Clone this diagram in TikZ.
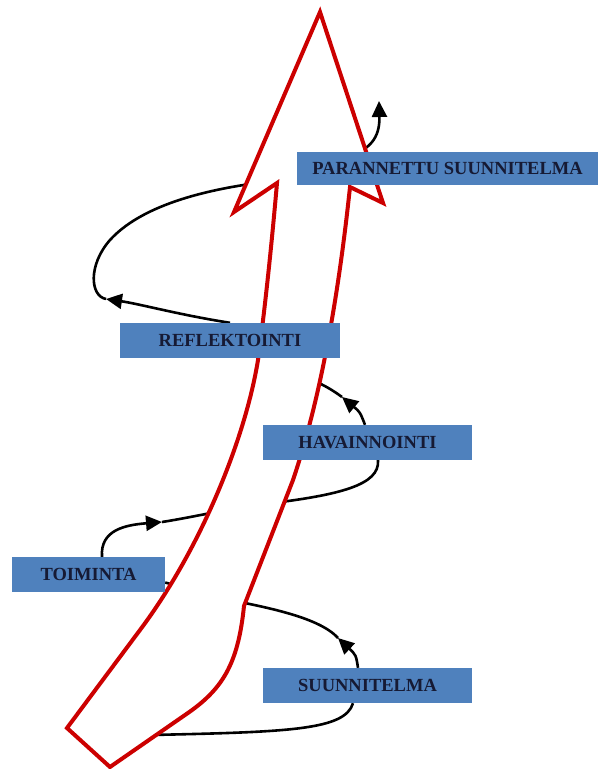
\documentclass[tikz,border=0pt]{standalone}
\usepackage{fontspec}
\setmainfont{Liberation Serif}
\usepackage{xcolor}
\usetikzlibrary{arrows.meta,backgrounds}

\definecolor{boxblue}{RGB}{79,129,189}
\definecolor{arrowred}{RGB}{204,0,0}
\definecolor{boxtext}{RGB}{22,26,52}

\begin{document}
\begin{tikzpicture}[
  x=1pt, y=-1pt, >={Triangle[length=16pt,width=15pt]},
  box/.style={fill=boxblue, text=boxtext, font=\fontsize{18.5}{20}\selectfont\bfseries, inner sep=0pt, minimum height=35pt},
  spiral/.style={draw=black, line width=2.6pt},
  bigarrow/.style={draw=arrowred, fill=white, line width=4pt, line join=miter},
]
\useasboundingbox (0,0) rectangle (612,769);

\node[box, minimum width=301pt, minimum height=33pt] (par) at (447.5,168.5) {PARANNETTU SUUNNITELMA};
\node[box, minimum width=220pt] (refl) at (230,340.5) {REFLEKTOINTI};
\node[box, minimum width=209pt] (hav) at (367.5,442.5) {HAVAINNOINTI};
\node[box, minimum width=153pt] (toim) at (88.5,574.5) {TOIMINTA};
\node[box, minimum width=209pt] (suun) at (367.5,685.5) {SUUNNITELMA};

\coordinate (s2) at (338,638);
\coordinate (t2) at (162,522);
\coordinate (h2) at (342,397);
\coordinate (r2) at (106,299);

\begin{scope}[on background layer]
% spiral round the arrow, hidden where it passes behind
\draw[spiral] ([xshift=-14.5pt]suun.south) .. controls (345,730) and (290,732) .. (150,735);
\draw[spiral,->] ([xshift=-9.5pt]suun.north) .. controls (356,655) .. (s2);
\draw[spiral] (s2) .. controls (320,618) and (270,608) .. (230,600) -- ([yshift=-8pt]toim.east);
\draw[spiral,->] ([xshift=13.5pt]toim.north) .. controls (100,530) and (125,525) .. (t2);
\draw[spiral] (t2) .. controls (200,516) and (240,506) .. (265,504)
  .. controls (340,495) and (380,485) .. ([xshift=10.5pt]hav.south);
\draw[spiral,->] ([xshift=-2.5pt]hav.north) .. controls (360,412) .. (h2);
\draw[spiral] (h2) .. controls (330,388) and (315,380) .. (300,376);
\draw[spiral,->] (refl.north) .. controls (180,315) and (140,304) .. (r2);
\draw[spiral] (r2) .. controls (90,296) and (88,265) .. (110,240)
  .. controls (140,207) and (200,190) .. (265,182);
\draw[spiral,->] (345,158) .. controls (370,150) and (380,138) .. (379,101);

% the big arrow
\draw[bigarrow] (320,12) -- (383,203) -- (350,187)
  .. controls (338,300) and (320,400) .. (293,480)
  -- (244,606)
  .. controls (238,665) and (222,690) .. (185,715)
  -- (110,767) -- (67,728) -- (140,630)
  .. controls (200,550) and (245,440) .. (258,360)
  .. controls (266,300) and (272,240) .. (277,183)
  -- (234,212) -- cycle;
\end{scope}
\end{tikzpicture}
\end{document}
